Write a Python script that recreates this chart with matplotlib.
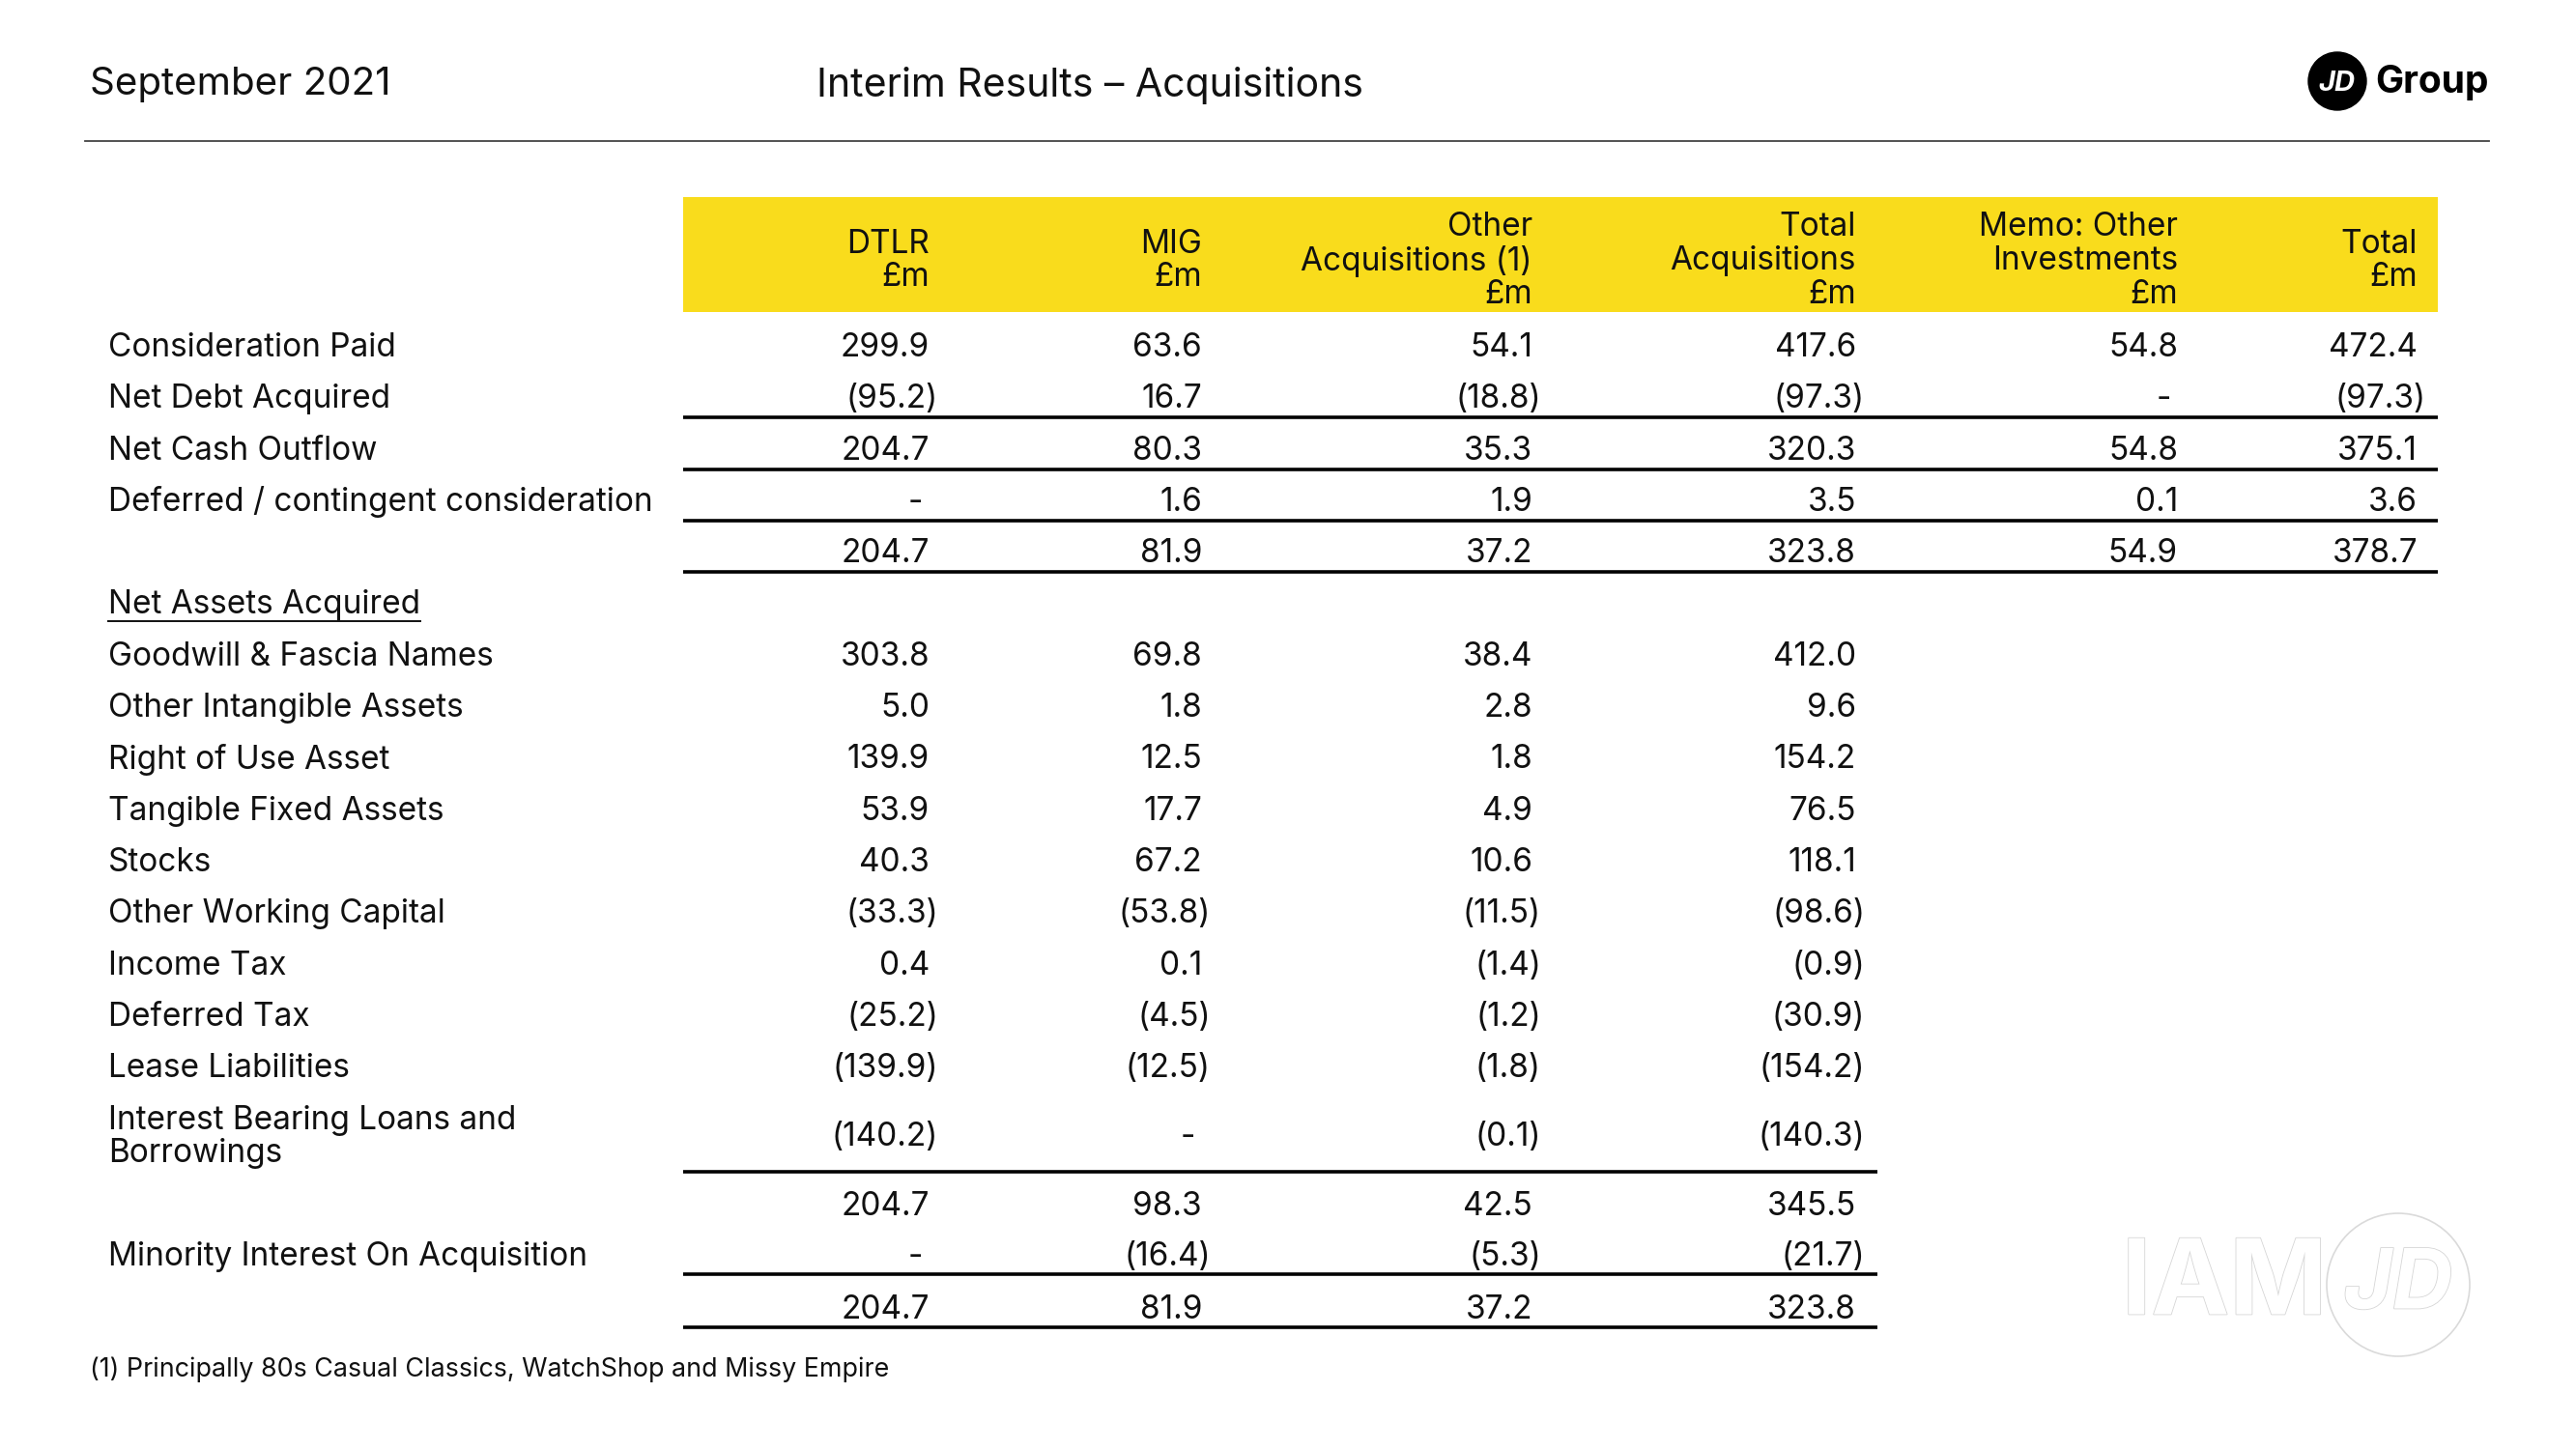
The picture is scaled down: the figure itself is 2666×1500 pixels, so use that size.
import matplotlib
matplotlib.use("Agg")
import matplotlib.pyplot as plt
import matplotlib.patheffects as pe
from matplotlib.patches import Rectangle, Circle

plt.rcParams['font.family'] = ['Inter', 'DejaVu Sans']

# ---- data ----
title_left = "September 2021"
title_mid = "Interim Results \u2013 Acquisitions"
footnote = "(1) Principally 80s Casual Classics, WatchShop and Missy Empire"

headers = ["DTLR\n£m", "MIG\n£m", "Other\nAcquisitions (1)\n£m",
           "Total\nAcquisitions\n£m", "Memo: Other\nInvestments\n£m", "Total\n£m"]

labels = ["Consideration Paid", "Net Debt Acquired", "Net Cash Outflow",
          "Deferred / contingent consideration", "", "Net Assets Acquired",
          "Goodwill & Fascia Names", "Other Intangible Assets", "Right of Use Asset",
          "Tangible Fixed Assets", "Stocks", "Other Working Capital", "Income Tax",
          "Deferred Tax", "Lease Liabilities", "Interest Bearing Loans and\nBorrowings",
          "", "Minority Interest On Acquisition", ""]

dtlr = ["299.9", "(95.2)", "204.7", "-", "204.7", "", "303.8", "5.0", "139.9", "53.9",
        "40.3", "(33.3)", "0.4", "(25.2)", "(139.9)", "(140.2)", "204.7", "-", "204.7"]
mig = ["63.6", "16.7", "80.3", "1.6", "81.9", "", "69.8", "1.8", "12.5", "17.7",
       "67.2", "(53.8)", "0.1", "(4.5)", "(12.5)", "-", "98.3", "(16.4)", "81.9"]
other = ["54.1", "(18.8)", "35.3", "1.9", "37.2", "", "38.4", "2.8", "1.8", "4.9",
         "10.6", "(11.5)", "(1.4)", "(1.2)", "(1.8)", "(0.1)", "42.5", "(5.3)", "37.2"]
total_acq = ["417.6", "(97.3)", "320.3", "3.5", "323.8", "", "412.0", "9.6", "154.2", "76.5",
             "118.1", "(98.6)", "(0.9)", "(30.9)", "(154.2)", "(140.3)", "345.5", "(21.7)", "323.8"]
memo = ["54.8", "-", "54.8", "0.1", "54.9"] + [""] * 14
total = ["472.4", "(97.3)", "375.1", "3.6", "378.7"] + [""] * 14

columns = [dtlr, mig, other, total_acq, memo, total]

# ---- layout (pixel coords of a 2666x1500 canvas) ----
col_right = [962, 1244, 1586, 1921, 2254, 2502]
row_y = [360 + 53.3 * i for i in range(15)] + [1177, 1249, 1301, 1356]
wide_lines = [1, 2, 3, 4]          # rows with a rule under them, full width
narrow_lines = [15, 17, 18]        # rows with a rule under them, first 4 cols
tbl_left, tbl_right, tbl_right_short = 707, 2523, 1943
yellow = "#F9DC1C"
fs = 24

fig = plt.figure(figsize=(26.66, 15), dpi=100)
ax = fig.add_axes([0, 0, 1, 1])
ax.set_xlim(0, 2666)
ax.set_ylim(1500, 0)
ax.axis('off')

# header of slide
ax.text(93, 88, title_left, fontsize=29, va='center', ha='left', color='#111111')
ax.text(845, 88, title_mid, fontsize=29.5, va='center', ha='left', color='#111111')
ax.plot([88, 2576], [146, 146], color='#444444', lw=1.3)

# JD Group logo
ax.add_patch(Circle((2419, 84), 30, color='black'))
ax.text(2418, 86, "JD", fontsize=21, fontweight='bold', style='italic', color='white',
        ha='center', va='center')
ax.text(2458, 86, "Group", fontsize=28, fontweight='bold', color='black',
        ha='left', va='center')

# yellow header band
ax.add_patch(Rectangle((tbl_left, 204), tbl_right - tbl_left, 119, color=yellow, lw=0))
for h, x in zip(headers, col_right):
    ax.text(x, 270, h, fontsize=fs, ha='right', va='center', linespacing=1.1,
            color='#111111', multialignment='right')

# row labels
label_texts = []
for lab, y in zip(labels, row_y):
    if lab:
        t = ax.text(112, y, lab, fontsize=fs, ha='left', va='center', color='#111111',
                    linespacing=1.1)
        label_texts.append((lab, t))

# underline "Net Assets Acquired" to the width of the text
fig.canvas.draw()
for lab, t in label_texts:
    if lab == "Net Assets Acquired":
        bb = t.get_window_extent()
        ax.plot([112, 112 + bb.width], [643, 643], color='#111111', lw=1.4)

# values
for col, x in zip(columns, col_right):
    for v, y in zip(col, row_y):
        if not v:
            continue
        if v.startswith("("):
            xx = x + 9
        elif v == "-":
            xx = x - 7
        else:
            xx = x
        ax.text(xx, y, v, fontsize=fs, ha='right', va='center', color='#111111')

# rules
for i in wide_lines:
    y = row_y[i] + 19
    ax.plot([tbl_left, tbl_right], [y, y], color='black', lw=2.6, solid_capstyle='butt')
for i in narrow_lines:
    y = (row_y[i] + row_y[i + 1]) / 2 if i == 15 else row_y[i] + 18
    ax.plot([tbl_left, tbl_right_short], [y, y], color='black', lw=2.6, solid_capstyle='butt')

# footnote
ax.text(93, 1418, footnote, fontsize=19.3, ha='left', va='center', color='#111111')

# faint watermark
outline = [pe.Stroke(linewidth=1.2, foreground='#d6d6d6'), pe.Normal()]
ax.text(2196, 1332, "IAM", fontsize=78, fontweight='bold', color='white',
        ha='left', va='center', path_effects=outline)
ax.add_patch(Circle((2482, 1330), 74, fill=False, edgecolor='#dadada', lw=1.2))
ax.text(2482, 1332, "JD", fontsize=62, fontweight='bold', style='italic', color='white',
        ha='center', va='center', path_effects=outline)

fig.savefig("out.png", dpi=100)
